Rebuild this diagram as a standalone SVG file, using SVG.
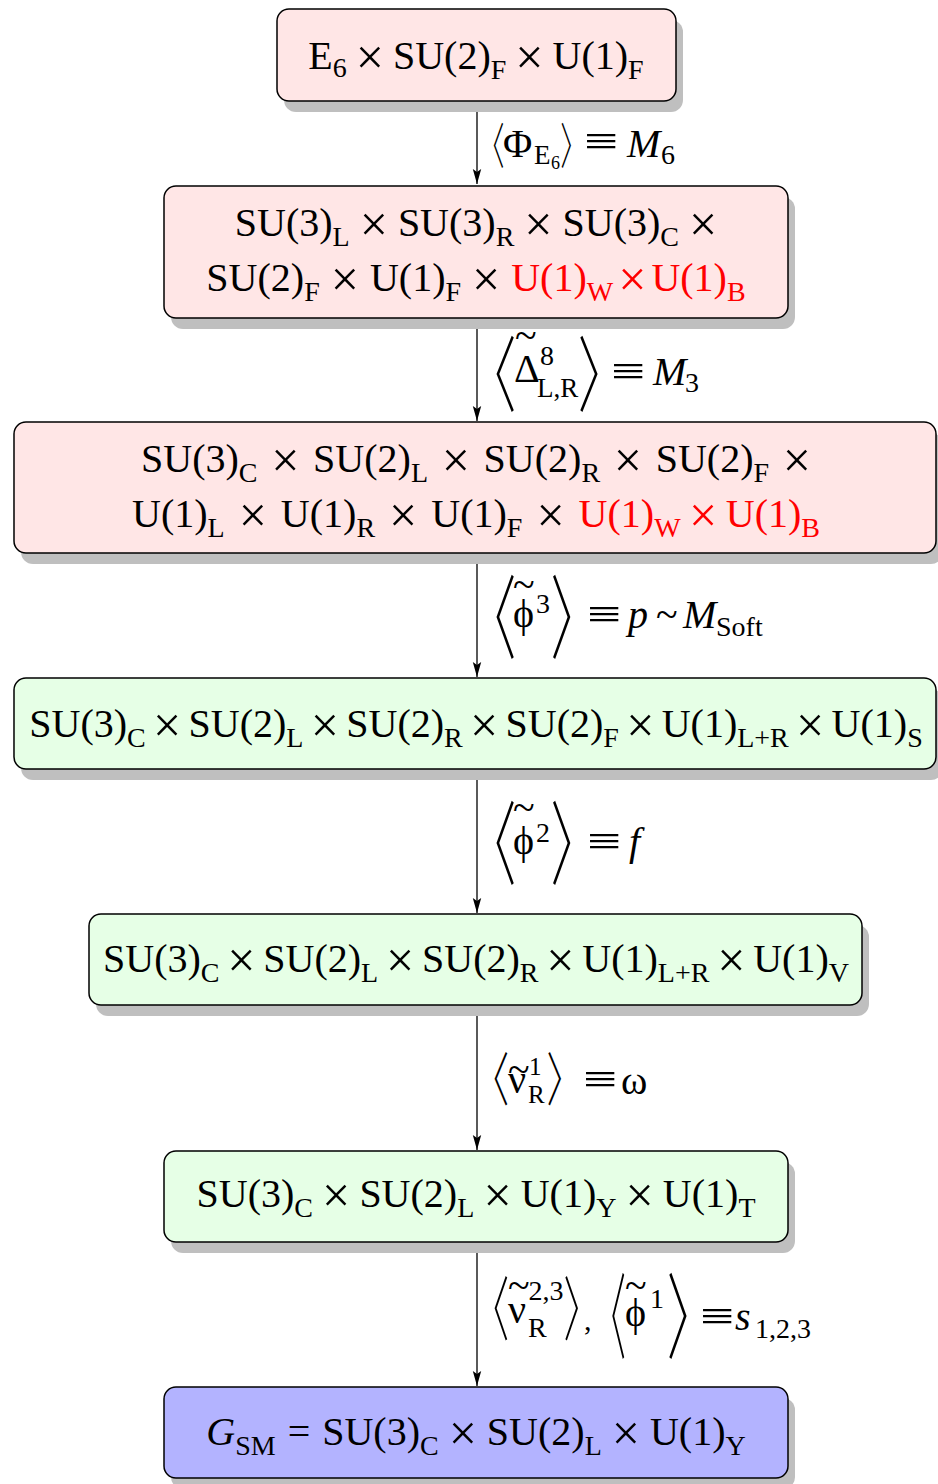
<svg xmlns="http://www.w3.org/2000/svg" width="938" height="1484" viewBox="0 0 938 1484">
<defs>
<marker id="ah" markerUnits="userSpaceOnUse" markerWidth="16" markerHeight="10" refX="15" refY="5" orient="auto"><path d="M0,0.8 L15,5 L0,9.2 L3,5 z" fill="#000"/></marker>
</defs>
<style>
.box{stroke:#000;stroke-width:1.5}
.pink{fill:#ffe6e6}.green{fill:#e6ffe6}.blue{fill:#b3b3ff}
.sh{fill:#bfbfbf}
.t{font-family:"Liberation Serif","DejaVu Serif",serif;font-size:40px;fill:#000}
.s{font-size:28px}
.s2{font-size:25px}
.ss{font-size:18px}
.x{font-size:50px}
.r{fill:#f00}
.i{font-style:italic}
.eq{font-family:"Liberation Serif","DejaVu Serif",serif;font-size:38px;fill:#000}
.br{font-family:"Noto Sans CJK JP","Noto Sans CJK SC",sans-serif;font-size:30px;font-weight:300;fill:#000}
.bl{letter-spacing:-5px}
.bR{letter-spacing:-17px}
.edge{stroke:#000;stroke-width:1.3;fill:none;marker-end:url(#ah)}
</style>
<rect width="938" height="1484" fill="#fff"/>

<g id="connectors">
<line class="edge" x1="477" y1="101" x2="477" y2="184"/>
<line class="edge" x1="477" y1="318" x2="477" y2="421"/>
<line class="edge" x1="477" y1="553" x2="477" y2="677"/>
<line class="edge" x1="477" y1="769" x2="477" y2="913"/>
<line class="edge" x1="477" y1="1005" x2="477" y2="1150"/>
<line class="edge" x1="477" y1="1242" x2="477" y2="1386"/>
</g>

<g id="node1">
<rect class="sh" x="284" y="20" width="399" height="92" rx="12"/>
<rect class="box pink" x="277" y="9" width="399" height="92" rx="12"/>
<text class="t" x="476" y="69" text-anchor="middle">E<tspan class="s" dy="8">6</tspan><tspan class="x" dy="-3" dx="9">×</tspan><tspan dy="-5" dx="9">SU(2)</tspan><tspan class="s" dy="10">F</tspan><tspan class="x" dy="-5" dx="9">×</tspan><tspan dy="-5" dx="9">U(1)</tspan><tspan class="s" dy="10">F</tspan></text>
</g>

<g id="node2">
<rect class="sh" x="171" y="197" width="624" height="132" rx="12"/>
<rect class="box pink" x="164" y="186" width="624" height="132" rx="12"/>
<text class="t" x="476" y="236" text-anchor="middle">SU(3)<tspan class="s" dy="10">L</tspan><tspan class="x" dy="-5" dx="10">×</tspan><tspan dy="-5" dx="10">SU(3)</tspan><tspan class="s" dy="10">R</tspan><tspan class="x" dy="-5" dx="10">×</tspan><tspan dy="-5" dx="10">SU(3)</tspan><tspan class="s" dy="10">C</tspan><tspan class="x" dy="-5" dx="10">×</tspan></text>
<text class="t" x="476" y="291" text-anchor="middle">SU(2)<tspan class="s" dy="10">F</tspan><tspan class="x" dy="-5" dx="11">×</tspan><tspan dy="-5" dx="11">U(1)</tspan><tspan class="s" dy="10">F</tspan><tspan class="x" dy="-5" dx="11">×</tspan><tspan class="r" dy="-5" dx="11">U(1)</tspan><tspan class="s r" dy="10">W</tspan><tspan class="x r" dy="-5" dx="5">×</tspan><tspan class="r" dy="-5" dx="5">U(1)</tspan><tspan class="s r" dy="10">B</tspan></text>
</g>

<g id="node3">
<rect class="sh" x="21" y="433" width="922" height="131" rx="12"/>
<rect class="box pink" x="14" y="422" width="922" height="131" rx="12"/>
<text class="t" x="476" y="472" text-anchor="middle">SU(3)<tspan class="s" dy="10">C</tspan><tspan class="x" dy="-5" dx="13.7">×</tspan><tspan dy="-5" dx="13.7">SU(2)</tspan><tspan class="s" dy="10">L</tspan><tspan class="x" dy="-5" dx="13.7">×</tspan><tspan dy="-5" dx="13.7">SU(2)</tspan><tspan class="s" dy="10">R</tspan><tspan class="x" dy="-5" dx="13.7">×</tspan><tspan dy="-5" dx="13.7">SU(2)</tspan><tspan class="s" dy="10">F</tspan><tspan class="x" dy="-5" dx="13.7">×</tspan></text>
<text class="t" x="476" y="527" text-anchor="middle">U(1)<tspan class="s" dy="10">L</tspan><tspan class="x" dy="-5" dx="14">×</tspan><tspan dy="-5" dx="14">U(1)</tspan><tspan class="s" dy="10">R</tspan><tspan class="x" dy="-5" dx="14">×</tspan><tspan dy="-5" dx="14">U(1)</tspan><tspan class="s" dy="10">F</tspan><tspan class="x" dy="-5" dx="14">×</tspan><tspan class="r" dy="-5" dx="14">U(1)</tspan><tspan class="s r" dy="10">W</tspan><tspan class="x r" dy="-5" dx="8.5">×</tspan><tspan class="r" dy="-5" dx="8.5">U(1)</tspan><tspan class="s r" dy="10">B</tspan></text>
</g>

<g id="node4">
<rect class="sh" x="21" y="689" width="922" height="91" rx="12"/>
<rect class="box green" x="14" y="678" width="922" height="91" rx="12"/>
<text class="t" x="476" y="737" text-anchor="middle">SU(3)<tspan class="s" dy="10">C</tspan><tspan class="x" dy="-5" dx="7.3">×</tspan><tspan dy="-5" dx="7.3">SU(2)</tspan><tspan class="s" dy="10">L</tspan><tspan class="x" dy="-5" dx="7.3">×</tspan><tspan dy="-5" dx="7.3">SU(2)</tspan><tspan class="s" dy="10">R</tspan><tspan class="x" dy="-5" dx="7.3">×</tspan><tspan dy="-5" dx="7.3">SU(2)</tspan><tspan class="s" dy="10">F</tspan><tspan class="x" dy="-5" dx="7.3">×</tspan><tspan dy="-5" dx="7.3">U(1)</tspan><tspan class="s" dy="10">L+R</tspan><tspan class="x" dy="-5" dx="7.3">×</tspan><tspan dy="-5" dx="7.3">U(1)</tspan><tspan class="s" dy="10">S</tspan></text>
</g>

<g id="node5">
<rect class="sh" x="96" y="925" width="773" height="91" rx="12"/>
<rect class="box green" x="89" y="914" width="773" height="91" rx="12"/>
<text class="t" x="476" y="972" text-anchor="middle">SU(3)<tspan class="s" dy="10">C</tspan><tspan class="x" dy="-5" dx="7.8">×</tspan><tspan dy="-5" dx="7.8">SU(2)</tspan><tspan class="s" dy="10">L</tspan><tspan class="x" dy="-5" dx="7.8">×</tspan><tspan dy="-5" dx="7.8">SU(2)</tspan><tspan class="s" dy="10">R</tspan><tspan class="x" dy="-5" dx="7.8">×</tspan><tspan dy="-5" dx="7.8">U(1)</tspan><tspan class="s" dy="10">L+R</tspan><tspan class="x" dy="-5" dx="7.8">×</tspan><tspan dy="-5" dx="7.8">U(1)</tspan><tspan class="s" dy="10">V</tspan></text>
</g>

<g id="node6">
<rect class="sh" x="171" y="1162" width="624" height="91" rx="12"/>
<rect class="box green" x="164" y="1151" width="624" height="91" rx="12"/>
<text class="t" x="476" y="1207" text-anchor="middle">SU(3)<tspan class="s" dy="10">C</tspan><tspan class="x" dy="-5" dx="9.1">×</tspan><tspan dy="-5" dx="9.1">SU(2)</tspan><tspan class="s" dy="10">L</tspan><tspan class="x" dy="-5" dx="9.1">×</tspan><tspan dy="-5" dx="9.1">U(1)</tspan><tspan class="s" dy="10">Y</tspan><tspan class="x" dy="-5" dx="9.1">×</tspan><tspan dy="-5" dx="9.1">U(1)</tspan><tspan class="s" dy="10">T</tspan></text>
</g>

<g id="node7">
<rect class="sh" x="171" y="1398" width="624" height="91" rx="12"/>
<rect class="box blue" x="164" y="1387" width="624" height="91" rx="12"/>
<text class="t" x="476" y="1445" text-anchor="middle"><tspan class="i">G</tspan><tspan class="s" dy="10">SM</tspan><tspan dy="-10" dx="12">=</tspan><tspan dx="12">SU(3)</tspan><tspan class="s" dy="10">C</tspan><tspan class="x" dy="-5" dx="10">×</tspan><tspan dy="-5" dx="10">SU(2)</tspan><tspan class="s" dy="10">L</tspan><tspan class="x" dy="-5" dx="10">×</tspan><tspan dy="-5" dx="10">U(1)</tspan><tspan class="s" dy="10">Y</tspan></text>
</g>

<g id="labels">
<g id="label1">
<text class="br bl" transform="translate(477.6,163.6) scale(0.9,1.63)">〈</text>
<text class="t"><tspan x="503" y="157">Φ</tspan><tspan class="s" style="font-size:27px" x="534" y="164">E</tspan><tspan class="ss" x="551" y="169">6</tspan></text>
<text class="br bR" transform="translate(560.2,163.6) scale(0.9,1.63)">〉</text>
<text class="eq" transform="translate(584,155) scale(1.6,1.1)">≡</text>
<text class="t"><tspan class="i" x="627" y="157">M</tspan><tspan class="s" x="661" y="164">6</tspan></text>
</g>
<g id="label2">
<text class="br bl" transform="translate(466.3,405.2) scale(1.67,2.75)">〈</text>
<text class="t"><tspan x="514" y="349" dx="0 -22.64" dy="0 33">~Δ</tspan><tspan class="s" x="540" y="365">8</tspan><tspan class="s" style="font-size:27px" x="537" y="397">L,R</tspan></text>
<text class="br bR" transform="translate(577.7,405.2) scale(1.67,2.75)">〉</text>
<text class="eq" transform="translate(611,385) scale(1.6,1.1)">≡</text>
<text class="t"><tspan class="i" x="653" y="385">M</tspan><tspan class="s" x="685" y="392">3</tspan></text>
</g>
<g id="label3">
<text class="br bl" transform="translate(466.3,650.6) scale(1.67,3.04)">〈</text>
<text class="t"><tspan x="513" y="598" dx="0 -21.64" dy="0 29">~ϕ</tspan><tspan class="s" x="536" y="613">3</tspan></text>
<text class="br bR" transform="translate(550.5,650.6) scale(1.67,3.04)">〉</text>
<text class="eq" transform="translate(587,628) scale(1.6,1.1)">≡</text>
<text class="t"><tspan class="i" x="628" y="628">p</tspan><tspan x="656" y="628">~</tspan><tspan class="i" x="683" y="628">M</tspan><tspan class="s" x="716" y="636">Soft</tspan></text>
</g>
<g id="label4">
<text class="br bl" transform="translate(466.3,876.6) scale(1.67,3.04)">〈</text>
<text class="t"><tspan x="513" y="821" dx="0 -21.64" dy="0 33">~ϕ</tspan><tspan class="s" x="536" y="842">2</tspan></text>
<text class="br bR" transform="translate(550.5,876.6) scale(1.67,3.04)">〉</text>
<text class="eq" transform="translate(587,855) scale(1.6,1.1)">≡</text>
<text class="t"><tspan class="i" x="629" y="855">f</tspan></text>
</g>
<g id="label5">
<text class="br bl" transform="translate(472.5,1101) scale(1.22,1.93)">〈</text>
<text class="t"><tspan x="508" y="1083" dx="0 -21.64" dy="0 10">~ν</tspan><tspan class="s2" x="529" y="1075">1</tspan><tspan class="s2" x="528" y="1103">R</tspan></text>
<text class="br bR" transform="translate(546.4,1101) scale(1.22,1.93)">〉</text>
<text class="eq" transform="translate(583,1093) scale(1.6,1.1)">≡</text>
<text class="t"><tspan x="621" y="1094">ω</tspan></text>
</g>
<g id="label6">
<text class="br bl" transform="translate(472.5,1335.1) scale(1.22,2.33)">〈</text>
<text class="t"><tspan x="508" y="1299" dx="0 -21.64" dy="0 24">~ν</tspan><tspan class="s" x="528.5" y="1300">2,3</tspan><tspan class="s" x="528" y="1337">R</tspan></text>
<text class="br bR" transform="translate(563.5,1335.1) scale(1.22,2.33)">〉</text>
<text class="t" style="font-size:30px" x="584" y="1330">,</text>
<text class="br bl" transform="translate(591.5,1350.5) scale(1.15,3.11)">〈</text>
<text class="t"><tspan x="625" y="1299" dx="0 -21.64" dy="0 27">~ϕ</tspan><tspan class="s" x="650" y="1308">1</tspan></text>
<text class="br bR" transform="translate(666.7,1350.5) scale(1.67,3.11)">〉</text>
<text class="eq" transform="translate(700,1330) scale(1.6,1.1)">≡</text>
<text class="t"><tspan class="i" x="735" y="1330">s</tspan><tspan class="s" x="755" y="1338">1,2,3</tspan></text>
</g>
</g>
</svg>
